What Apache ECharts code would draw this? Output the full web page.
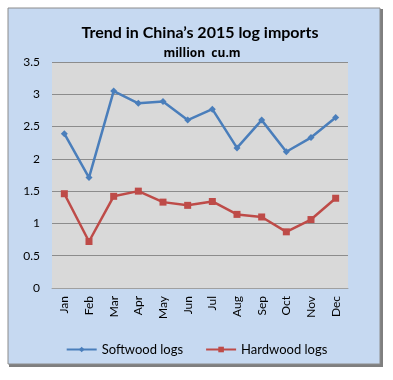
<!DOCTYPE html>
<html><head><meta charset="utf-8">
<script src="https://cdn.jsdelivr.net/npm/echarts@6/dist/echarts.min.js"></script>
<style>html,body{margin:0;padding:0;background:#fff}#c{width:393px;height:380px}</style>
</head><body><div id="c"></div>
<script>
const months = ['Jan','Feb','Mar','Apr','May','Jun','Jul','Aug','Sep','Oct','Nov','Dec'];
const softwood = [2.39,1.71,3.05,2.86,2.89,2.60,2.77,2.17,2.60,2.11,2.33,2.64];
const hardwood = [1.46,0.72,1.42,1.50,1.33,1.28,1.34,1.14,1.10,0.87,1.06,1.39];
const yTicks = [0,0.5,1,1.5,2,2.5,3,3.5];
const F = 'Lato, "Open Sans", sans-serif';
const chart = echarts.init(document.getElementById('c'), null, {renderer:'canvas'});
chart.setOption({
  animation:false,
  backgroundColor:'#ffffff',
  graphic:[
    {type:'rect', z:-10, shape:{x:9,y:9,width:374,height:358}, style:{fill:'#7f7f7f'}},
    {type:'rect', z:-9, shape:{x:8,y:8,width:372,height:356}, style:{fill:'#c6d9f1', stroke:'#8c8c8c', lineWidth:1}}
  ],
  title:[
    {text:'Trend in China\u2019s 2015 log imports', left:195, top:20, textAlign:'center',
     textStyle:{fontFamily:F, fontSize:16, fontWeight:'bold', color:'#000'}},
    {text:'million  cu.m', left:197, top:43, textAlign:'center',
     textStyle:{fontFamily:'"Open Sans", Lato, sans-serif', fontSize:12, fontWeight:'bold', color:'#000'}}
  ],
  legend:{
    top:338, left:'center', itemWidth:30, itemHeight:7, itemGap:22,
    textStyle:{fontFamily:F, fontSize:13, color:'#000'},
    data:['Softwood logs','Hardwood logs']
  },
  grid:{left:52, top:62, width:296, height:226, containLabel:false, show:true, backgroundColor:'#d9d9d9', borderWidth:0},
  xAxis:{
    type:'category', data:months, boundaryGap:true,
    axisLine:{show:true, lineStyle:{color:'#a0a0a0'}}, axisTick:{show:false},
    axisLabel:{rotate:90, fontFamily:F, fontSize:12, color:'#000', margin:8}
  },
  yAxis:{
    type:'value', min:0, max:3.5, interval:0.5,
    axisLine:{show:false}, axisTick:{show:false},
    splitLine:{lineStyle:{color:'#8c8c8c', width:1}},
    axisLabel:{fontFamily:F, fontSize:12, color:'#000', margin:12,
      formatter:v=>String(yTicks.find(t=>Math.abs(t-v)<1e-9) ?? v)}
  },
  series:[
    {name:'Softwood logs', type:'line', data:softwood, symbol:'diamond', symbolSize:7,
     lineStyle:{color:'#4a7ebb', width:2.5}, itemStyle:{color:'#4a7ebb'}},
    {name:'Hardwood logs', type:'line', data:hardwood, symbol:'rect', symbolSize:7,
     lineStyle:{color:'#be4b48', width:2.5}, itemStyle:{color:'#be4b48'}}
  ]
});
</script></body></html>
